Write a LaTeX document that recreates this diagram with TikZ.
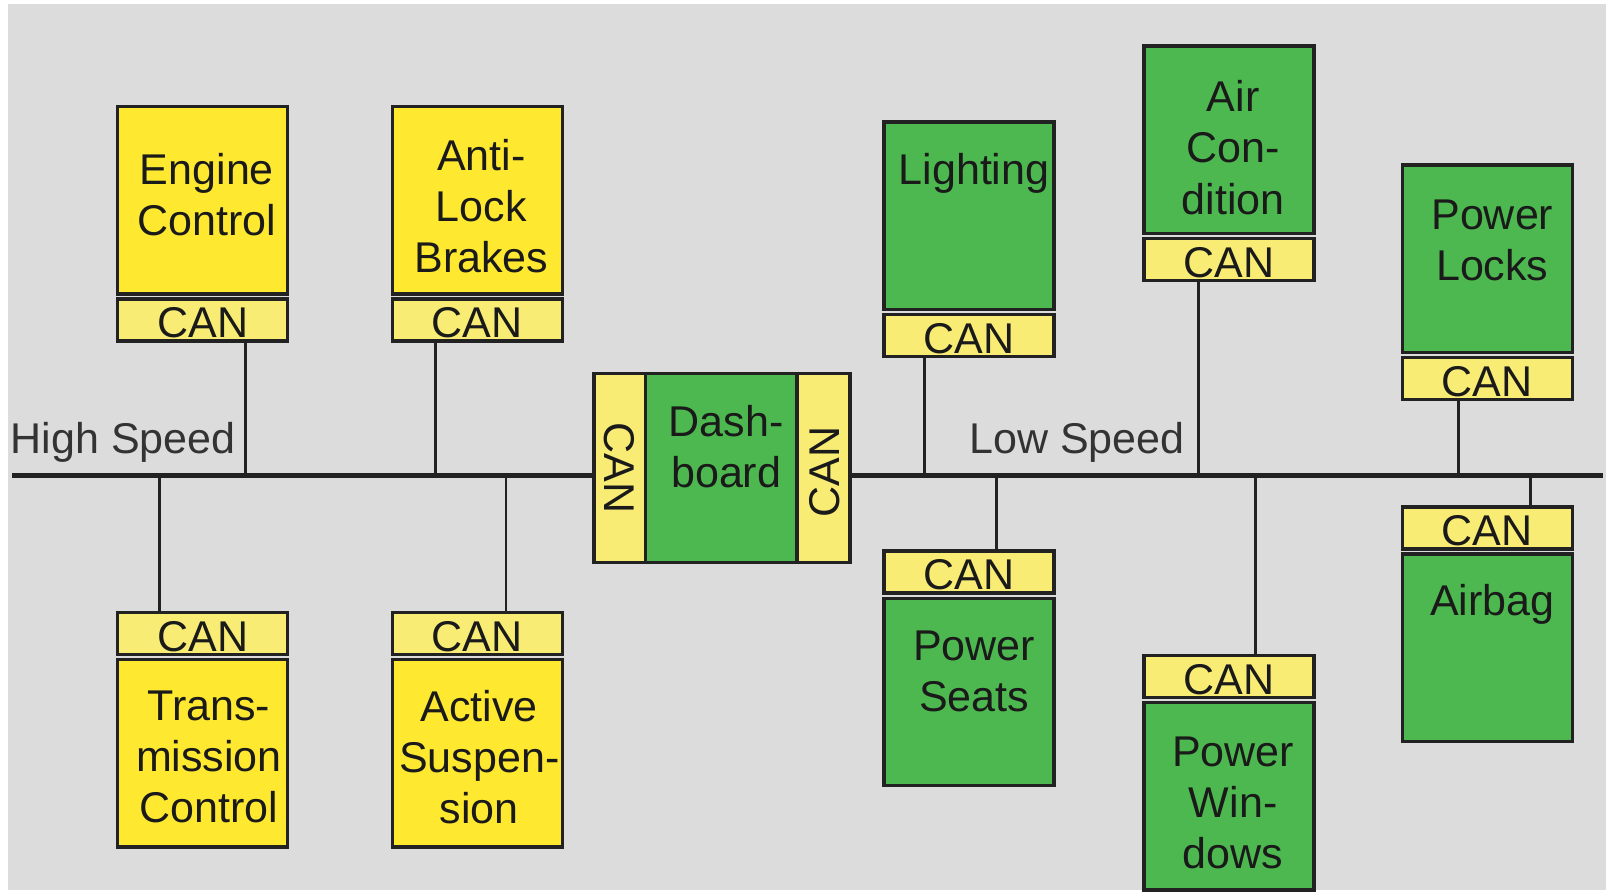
\documentclass[tikz,border=0pt]{standalone}
\usepackage{fontspec}
\setmainfont{Liberation Sans}
\definecolor{bggray}{HTML}{DCDCDC}
\definecolor{ecuy}{HTML}{FFE830}
\definecolor{cany}{HTML}{F8EC74}
\definecolor{ecug}{HTML}{4DB84F}
\definecolor{edge}{HTML}{222222}
\definecolor{txt}{HTML}{1A1A1A}
\definecolor{bustxt}{HTML}{333333}
\newcommand\labfont{\fontsize{21}{25}\selectfont}
\tikzset{
  box/.style={draw=edge, line width=1.6pt, minimum width=83pt, minimum height=91.5pt,
    inner sep=0pt, outer sep=0pt, anchor=north west},
  ylw/.style={box, fill=ecuy},
  grn/.style={box, fill=ecug},
  canbox/.style={draw=edge, line width=1.6pt, fill=cany, minimum width=83pt,
    minimum height=20.5pt, inner sep=0pt, outer sep=0pt, anchor=north west,
    font=\labfont, text=txt, text height=17.5pt, text depth=0pt},
  strip/.style={draw=edge, line width=1.6pt, minimum height=92pt, inner sep=0pt,
    outer sep=0pt, anchor=north west},
  lbl/.style={font=\labfont, text=txt, align=center, inner sep=0pt},
  buslbl/.style={font=\labfont, text=bustxt, inner sep=0pt, anchor=west},
  vcan/.style={font=\labfont, text=txt, inner sep=0pt},
  bus/.style={draw=edge, line width=2.4pt},
  tap/.style={draw=edge, line width=1.4pt}
}
\begin{document}
\begin{tikzpicture}[x=0.5pt, y=-0.5pt]
\useasboundingbox (0,0) rectangle (1568,870);
\fill[white] (0,0) rectangle (1568,870);
\fill[bggray] (8,4) rectangle (1568,869);

% bus coordinates
\coordinate (hsL) at (12,464);
\coordinate (lsR) at (1565,464);
\coordinate (tEC) at (240,464);
\coordinate (tAB) at (425,464);
\coordinate (tTC) at (156,464);
\coordinate (tAS) at (494,464);
\coordinate (tLi) at (903,464);
\coordinate (tAC) at (1170,464);
\coordinate (tPL) at (1424,464);
\coordinate (tPS) at (973,464);
\coordinate (tPW) at (1226,464);
\coordinate (tAir) at (1494,464);

% high speed ECUs
\node[ylw] (ec) at (115,104) {};
\node[canbox] (ecC) at (115,292) {CAN};
\node[ylw] (ab) at (383,104) {};
\node[canbox] (abC) at (383,292) {CAN};
\node[canbox] (tcC) at (115,598) {CAN};
\node[ylw] (tc) at (115,644) {};
\node[canbox] (asC) at (383,598) {CAN};
\node[ylw] (as) at (383,644) {};

% dashboard
\node[strip, fill=ecug, minimum width=74pt] (db) at (630,365) {};
\node[strip, fill=cany, minimum width=25pt] (dL) at (580,365) {};
\node[strip, fill=cany, minimum width=26pt] (dR) at (778,365) {};
\node[vcan, rotate=-90] (dLt) at (605,457) {CAN};
\node[vcan, rotate=90] (dRt) at (805,461) {CAN};

% low speed ECUs
\node[grn] (li) at (863,119) {};
\node[canbox] (liC) at (863,307) {CAN};
\node[grn] (ac) at (1117,45) {};
\node[canbox] (acC) at (1117,233) {CAN};
\node[grn] (pl) at (1369,161) {};
\node[canbox] (plC) at (1369,349) {CAN};
\node[canbox] (psC) at (863,538) {CAN};
\node[grn] (ps) at (863,584) {};
\node[canbox] (pwC) at (1117,640) {CAN};
\node[grn] (pw) at (1117,686) {};
\node[canbox] (airC) at (1369,495) {CAN};
\node[grn] (air) at (1369,541) {};

% texts
\node[lbl] (ecT) at (202,195) {\strut Engine\\\strut Control};
\node[lbl] (abT) at (470,206) {\strut Anti-\\\strut Lock\\\strut Brakes};
\node[lbl] (tcT) at (204,743) {\strut Trans-\\\strut mission\\\strut Control};
\node[lbl] (asT) at (468,744) {\strut Active\\\strut Suspen-\\\strut sion};
\node[lbl] (dbT) at (709,441) {\strut Dash-\\\strut board};
\node[lbl] (liT) at (951,170) {\strut Lighting};
\node[lbl] (acT) at (1204,149) {\strut Air\\\strut Con-\\\strut dition};
\node[lbl] (plT) at (1457,239) {\strut Power\\\strut Locks};
\node[lbl] (psT) at (951,660) {\strut Power\\\strut Seats};
\node[lbl] (pwT) at (1204,788) {\strut Power\\\strut Win-\\\strut dows};
\node[lbl] (airT) at (1457,591) {\strut Airbag};

\node[buslbl] (hsT) at (10,433) {\strut High Speed};
\node[buslbl] (lsT) at (946,433) {\strut Low Speed};

% bus lines
\draw[bus] (hsL) -- (hsL -| dL.west);
\draw[bus] (lsR -| dR.east) -- (lsR);

% taps
\draw[tap] (tEC) -- (tEC |- ecC.south);
\draw[tap] (tAB) -- (tAB |- abC.south);
\draw[tap] (tTC) -- (tTC |- tcC.north);
\draw[tap] (tAS) -- (tAS |- asC.north);
\draw[tap] (tLi) -- (tLi |- liC.south);
\draw[tap] (tAC) -- (tAC |- acC.south);
\draw[tap] (tPL) -- (tPL |- plC.south);
\draw[tap] (tPS) -- (tPS |- psC.north);
\draw[tap] (tPW) -- (tPW |- pwC.north);
\draw[tap] (tAir) -- (tAir |- airC.north);
\end{tikzpicture}
\end{document}
